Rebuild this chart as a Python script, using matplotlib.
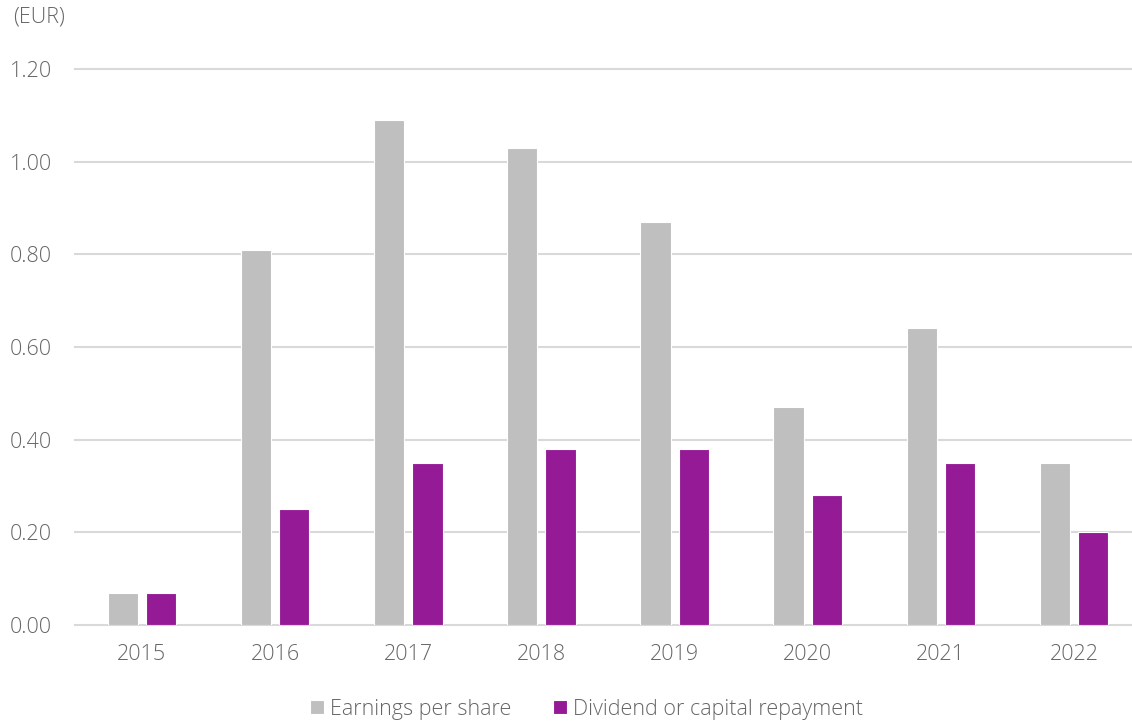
import matplotlib
matplotlib.use("Agg")
import matplotlib.pyplot as plt
import numpy as np

years = ["2015", "2016", "2017", "2018", "2019", "2020", "2021", "2022"]
eps = [0.07, 0.81, 1.09, 1.03, 0.87, 0.47, 0.64, 0.35]
dividend = [0.07, 0.25, 0.35, 0.38, 0.38, 0.28, 0.35, 0.20]
yticks = [0.0, 0.2, 0.4, 0.6, 0.8, 1.0, 1.2]

GRAY = "#BFBFBF"
PURPLE = "#951B96"
TEXT = "#666666"
GRID = "#D9D9D9"

plt.rcParams["font.family"] = ["Open Sans", "DejaVu Sans"]

fig = plt.figure(figsize=(11.32, 7.22), dpi=100)
# plot area runs slightly past the right edge of the image
ax = fig.add_axes([75.4 / 1132, 1 - 625 / 722, (1140.6 - 75.4) / 1132, (625 - 69) / 722])

x = np.arange(len(years))
w = 0.228
off = 0.144
ax.bar(x - off, eps, w, color=GRAY, edgecolor="white", linewidth=0.8,
       label="Earnings per share", zorder=3)
ax.bar(x + off, dividend, w, color=PURPLE, edgecolor="white", linewidth=0.8,
       label="Dividend or capital repayment", zorder=3)

ax.set_xlim(-0.5, len(years) - 0.5)
ax.set_ylim(0, 1.2)
ax.set_yticks(yticks)
ax.set_yticklabels([f"{v:.2f}" for v in yticks])
ax.set_xticks(x)
ax.set_xticklabels(years)
for v in yticks:
    ax.axhline(v, color=GRID, lw=1.5, zorder=1, clip_on=False)

for s in ax.spines.values():
    s.set_visible(False)
ax.tick_params(length=0, colors=TEXT, labelsize=15.5)
ax.tick_params(axis="y", pad=17)
ax.tick_params(axis="x", pad=14)
for lbl in ax.get_xticklabels() + ax.get_yticklabels():
    lbl.set_fontweight("light")

fig.text(13 / 1132, 1 - 17 / 722, "(EUR)", color=TEXT, fontsize=15.5,
         fontweight="light", va="center", ha="left")

leg = fig.legend(loc="center", bbox_to_anchor=(0.518, 1 - 709 / 722), ncol=2,
                 frameon=False, handlelength=0.65, handleheight=0.65,
                 handletextpad=0.28, columnspacing=1.95,
                 prop={"size": 15.5, "weight": "light"})
for t in leg.get_texts():
    t.set_color(TEXT)

fig.savefig("out.png", dpi=100)
